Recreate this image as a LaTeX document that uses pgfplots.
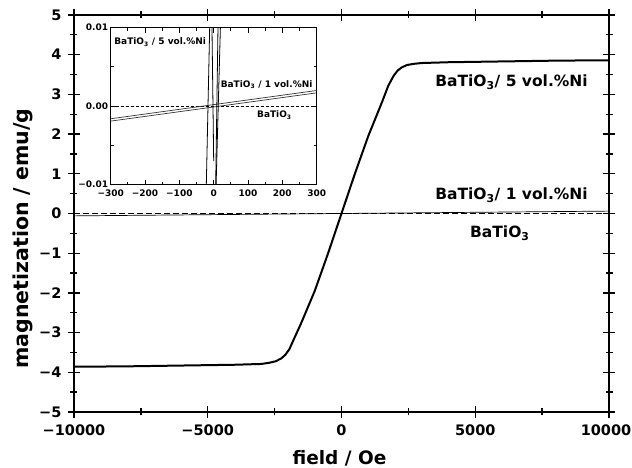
\documentclass[border=0pt]{standalone}
\usepackage{pgfplots}
\pgfplotsset{compat=1.18}
\usepackage{fontspec}
\setmainfont{DejaVu Sans}
\begin{document}
\begin{tikzpicture}[font=\bfseries]
% main loop
\begin{axis}[
  name=main,
  scale only axis,
  width=535pt, height=397pt,
  xmin=-10000, xmax=10000, ymin=-5, ymax=5,
  scaled ticks=false,
  axis line style={line width=1.6pt},
  every tick/.style={line width=1.3pt, black},
  tick align=center,
  major tick length=12pt, minor tick length=7pt,
  xtick={-10000,-5000,0,5000,10000},
  xticklabels={−10000,−5000,0,5000,\hspace*{-6pt}10000},
  minor xtick={-7500,-2500,2500,7500},
  ytick={-5,-4,-3,-2,-1,0,1,2,3,4,5},
  yticklabels={−5,−4,−3,−2,−1,0,1,2,3,4,5},
  minor ytick={-4.5,-3.5,-2.5,-1.5,-0.5,0.5,1.5,2.5,3.5,4.5},
  ticklabel style={font=\fontsize{14.5}{17}\selectfont\bfseries},
  xticklabel style={yshift=-3pt},
  yticklabel style={xshift=-3pt},
  clip=false,
]
\addplot[black, line width=0.7pt] coordinates {(-10000,-0.06) (10000,0.06)};
\addplot[black, line width=1.7pt, dash pattern=on 6pt off 3pt] coordinates {(-10000,0) (10000,0)};
\addplot[black, line width=2pt, line join=round] coordinates {
  (-10000,-3.86) (-8000,-3.85) (-6000,-3.83) (-4000,-3.81) (-3000,-3.79)
  (-2700,-3.76) (-2450,-3.72) (-2250,-3.65) (-2100,-3.56) (-1950,-3.42)
  (-1750,-3.12) (-1500,-2.75) (-1000,-1.95) (-500,-1.0) (0,0)
  (500,1.0) (1000,1.95) (1500,2.78) (1750,3.22) (1950,3.47)
  (2100,3.6) (2250,3.68) (2450,3.74) (2700,3.77) (3000,3.79)
  (4000,3.81) (6000,3.83) (8000,3.85) (10000,3.86)};
\node[anchor=base west, inner sep=0pt, font=\fontsize{15.5}{18}\selectfont\bfseries] at (axis cs:3500,3.2) {BaTiO\textsubscript{3}/ 5 vol.\%Ni};
\node[anchor=base west, inner sep=0pt, font=\fontsize{15.5}{18}\selectfont\bfseries] at (axis cs:3500,0.36) {BaTiO\textsubscript{3}/ 1 vol.\%Ni};
\node[anchor=base west, inner sep=0pt, font=\fontsize{15.5}{18}\selectfont\bfseries] at (axis cs:4800,-0.61) {BaTiO\textsubscript{3}};
\end{axis}
% axis titles
\node[anchor=base, font=\fontsize{18.5}{22}\selectfont\bfseries] at ([xshift=-2pt,yshift=-53pt]main.south) {field / Oe};
\node[rotate=90, font=\fontsize{20.5}{24}\selectfont\bfseries] at ([xshift=-51pt,yshift=-25pt]main.west) {magnetization / emu/g};
% inset
\begin{axis}[
  at={(36.7pt,384.3pt)}, anchor=north west,
  scale only axis,
  width=206pt, height=157pt,
  xmin=-300, xmax=300, ymin=-0.01, ymax=0.01,
  scaled ticks=false,
  axis background/.style={fill=white},
  axis line style={line width=1.2pt},
  every tick/.style={line width=1pt, black},
  tick align=inside,
  major tick length=5pt, minor tick length=3pt,
  xtick={-300,-200,-100,0,100,200,300},
  xticklabels={−300,−200,−100,0,100,200,300},
  minor xtick={-250,-150,-50,50,150,250},
  ytick={-0.01,0,0.01},
  yticklabels={−0.01,0.00,0.01},
  minor ytick={-0.005,0.005},
  ticklabel style={font=\fontsize{9}{11}\selectfont\bfseries},
  xticklabel style={yshift=-1.5pt},
  yticklabel style={xshift=1pt},
  clip=true,
]
\addplot[black, line width=1.2pt, dash pattern=on 3pt off 2pt] coordinates {(-300,0) (300,0)};
\addplot[black!80, line width=0.7pt] coordinates {(-300,-0.0016) (300,0.0020)};
\addplot[black!80, line width=0.7pt] coordinates {(-300,-0.0019) (300,0.0017)};
\addplot[black, line width=0.8pt] coordinates {(-21.5,-0.01) (-11.7,0.01)};
\addplot[black, line width=0.8pt] coordinates {(0,-0.007) (-5,0.01)};
\addplot[black, line width=0.8pt] coordinates {(5.8,-0.01) (12.5,0.01)};
\addplot[black, line width=0.8pt] coordinates {(7,-0.01) (19.5,0.01)};
\node[anchor=base west, inner sep=0pt, font=\fontsize{9}{11}\selectfont\bfseries] at (axis cs:-290,0.0078) {BaTiO\textsubscript{3} / 5 vol.\%Ni};
\node[anchor=base west, inner sep=0pt, font=\fontsize{9}{11}\selectfont\bfseries] at (axis cs:20,0.0024) {BaTiO\textsubscript{3} / 1 vol.\%Ni};
\node[anchor=base west, inner sep=0pt, font=\fontsize{9}{11}\selectfont\bfseries] at (axis cs:126,-0.0015) {BaTiO\textsubscript{3}};
\end{axis}
\pgfresetboundingbox
\path[use as bounding box] ([xshift=-74pt,yshift=-56pt]main.south west) rectangle ++(632pt,468pt);
\end{tikzpicture}
\end{document}
